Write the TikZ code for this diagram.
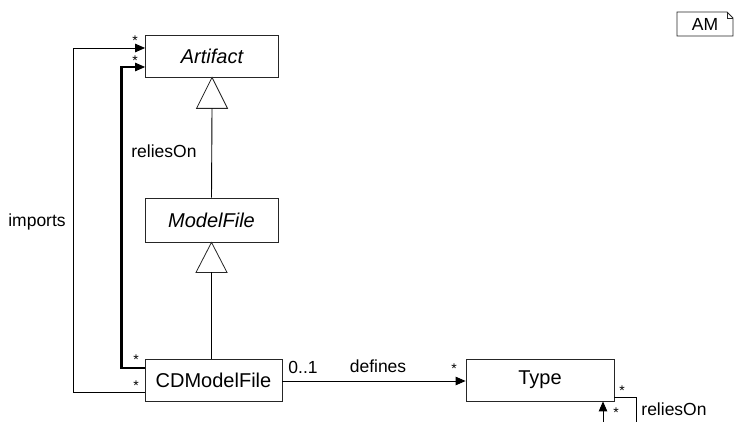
\documentclass[tikz,border=0pt]{standalone}
\usepackage{fontspec}
\setmainfont{Liberation Sans}
\usetikzlibrary{arrows.meta,calc}
\tikzset{
  cls/.style={draw=black!85, line width=0.8pt, fill=white, inner sep=0pt, font=\fontsize{20}{22}\selectfont},
  assoc/.style={draw=black, line width=0.9pt, -{Triangle[length=10pt,width=8.5pt]}},
  thickassoc/.style={draw=black, line width=2.4pt, -{Triangle[length=10pt,width=8.5pt,line width=0.9pt]}},
  genline/.style={draw=black, line width=0.9pt},
  gentri/.style={draw=black!85, line width=0.8pt, fill=white},
  lbl/.style={inner sep=0pt, font=\fontsize{17.5}{19}\selectfont},
  mult/.style={inner sep=0pt, font=\fontsize{14}{15}\selectfont}
}
\begin{document}
\begin{tikzpicture}[x=1pt,y=-1pt]
\useasboundingbox (0,0) rectangle (738,422);
% classes
\node[cls, minimum width=133pt, minimum height=42pt] (art) at (212,56) {\itshape Artifact};
\node[cls, minimum width=133pt, minimum height=44pt] (mf) at (211.5,220) {\itshape ModelFile};
\node[cls, minimum width=137pt, minimum height=42pt] (cd) at (213.5,380) {CDModelFile};
\node[cls, minimum width=148pt, minimum height=42pt] (ty) at (540,380) {Type};
% generalizations
\coordinate (t1) at ($(art.south)+(0,31)$);
\coordinate (t2) at ($(mf.south)+(0,30)$);
\draw[gentri] (art.south) -- ($(t1)+(-15.5,0)$) -- ($(t1)+(15.5,0)$) -- cycle;
\draw[genline] (t1) -- (mf.north);
\draw[gentri] (mf.south) -- ($(t2)+(-15.5,0)$) -- ($(t2)+(15.5,0)$) -- cycle;
\draw[genline] (t2) -- (t2 |- cd.north);
% imports
\draw[assoc] ([yshift=-12pt]cd.west) -- ++(-71,0) |- ([yshift=8pt]art.west);
% reliesOn (thick)
\draw[thickassoc] ([yshift=12pt]cd.west) -- ++(-23,0) |- ([yshift=-11pt]art.west);
% defines
\draw[assoc] ([yshift=-1pt]cd.east) -- ([yshift=-1pt]ty.west);
% self reliesOn on Type
\coordinate (le) at (636,422);
\coordinate (ls) at (603,422);
\draw[genline] ([yshift=-17pt]ty.east) -| (le);
\draw[assoc] (ls) -- (ls |- ty.south);
% labels
\node[lbl] (limp) at (37,222) {imports};
\node[lbl] (lrel) at (164,151) {reliesOn};
\node[lbl] (l01) at (303,367) {0..1};
\node[lbl] (ldef) at (378,366) {defines};
\node[lbl] (lrel2) at (674,409) {reliesOn};
\node[mult] (m1) at (135,41) {*};
\node[mult] (m2) at (135,61) {*};
\node[mult] (m3) at (136,360) {*};
\node[mult] (m4) at (136,386) {*};
\node[mult] (m5) at (454,369) {*};
\node[mult] (m6) at (622,391) {*};
\node[mult] (m7) at (616,413) {*};
% AM note
\draw[draw=black!85, line width=0.8pt, fill=white] (677,12) -- (727,12) -- (733,18) -- (733,36) -- (677,36) -- cycle;
\draw[draw=black!85, line width=0.6pt] (727,12) -- (727,18) -- (733,18);
\node[lbl] (am) at (705,24.5) {AM};
\end{tikzpicture}
\end{document}
